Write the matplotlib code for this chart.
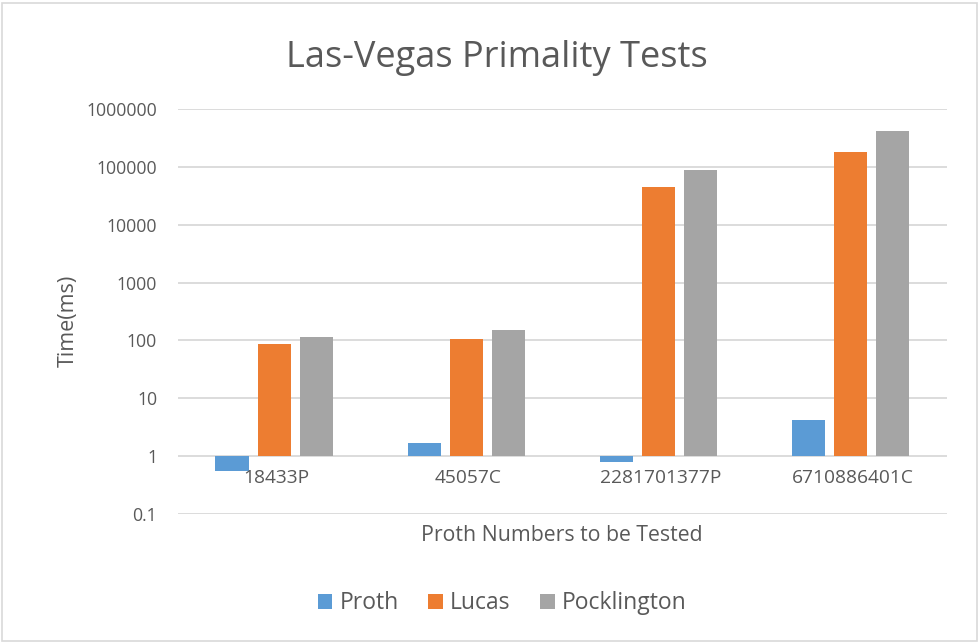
import numpy as np
import matplotlib.pyplot as plt
from matplotlib.patches import Rectangle

plt.rcParams['font.family'] = ['Open Sans', 'DejaVu Sans']

categories = ['18433P', '45057C', '2281701377P', '6710886401C']
series_names = ['Proth', 'Lucas', 'Pocklington']
proth = [0.55, 1.7, 0.79, 4.2]
lucas = [88, 105, 45000, 180000]
pocklington = [113, 149, 88000, 425000]
colors = ['#5b9bd5', '#ed7d31', '#a5a5a5']

text_col = '#595959'
grid_col = '#d9d9d9'

fig = plt.figure(figsize=(9.79, 6.44), dpi=100)
fig.patches.append(Rectangle((0.002, 0.004), 0.996, 0.992, transform=fig.transFigure,
                             fill=False, edgecolor=grid_col, linewidth=1.2))
ax = fig.add_axes([0.1818, 0.2019, 0.7852, 0.6288])

x = np.arange(len(categories))
width = 0.172
pitch = 0.219
for i, (vals, name) in enumerate(zip([proth, lucas, pocklington], series_names)):
    vals = np.array(vals)
    ax.bar(x + (i - 1) * pitch, vals - 1, bottom=1, width=width,
           color=colors[i], label=name, zorder=3)

ax.set_yscale('log')
ax.set_ylim(0.1, 1000000)
ax.set_xlim(-0.5, len(categories) - 0.5)
ticks = [0.1, 1, 10, 100, 1000, 10000, 100000, 1000000]
ax.set_yticks(ticks)
ax.set_yticklabels(['0.1', '1', '10', '100', '1000', '10000', '100000', '1000000'])
ax.yaxis.set_minor_locator(plt.NullLocator())
ax.grid(axis='y', color=grid_col, linewidth=1.3, zorder=0)
ax.tick_params(axis='y', length=0, pad=15, labelsize=12.7, labelcolor=text_col)

ax.set_xticks([])
for xi, c in zip(x, categories):
    ax.text(xi + 0.01, 0.42, c, ha='center', va='center', fontsize=13.8, color=text_col)

for s in ax.spines.values():
    s.set_visible(False)

fig.text(0.0695, 0.502, 'Time(ms)', rotation=90, ha='center', va='center',
         fontsize=15.5, color=text_col)
fig.text(0.574, 0.169, 'Proth Numbers to be Tested', ha='center', va='center',
         fontsize=15.3, color=text_col)
fig.text(0.508, 0.91, 'Las-Vegas Primality Tests', ha='center', va='center',
         fontsize=26, color=text_col)

leg = fig.legend(loc='center', bbox_to_anchor=(0.513, 0.063), ncol=3, frameon=False,
                 fontsize=16.5, handlelength=0.65, handleheight=0.65, handletextpad=0.3,
                 columnspacing=1.3)
for t in leg.get_texts():
    t.set_color(text_col)

fig.savefig('out.png', dpi=100)
